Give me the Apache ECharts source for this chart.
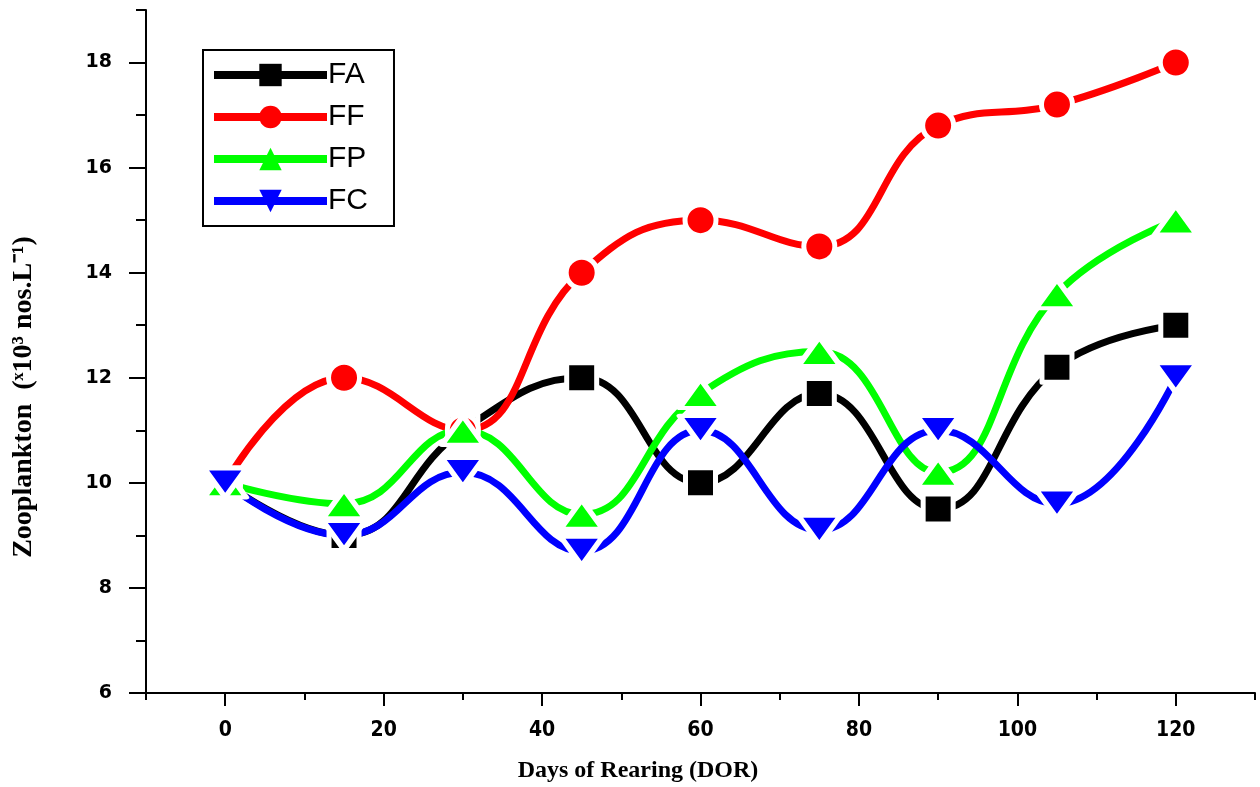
<!DOCTYPE html>
<html>
<head>
<meta charset="utf-8">
<script src="https://cdn.jsdelivr.net/npm/echarts@6/dist/echarts.min.js"></script>
<style>html,body{margin:0;padding:0;background:#fff;}#c{width:1260px;height:787px;}</style>
</head>
<body>
<div id="c"></div>
<script>
const days = [0, 15, 30, 45, 60, 75, 90, 105, 120];
const FA = [10, 9, 11, 12, 10, 11.7, 9.5, 12.2, 13];
const FF = [10, 12, 11, 14, 15, 14.5, 16.8, 17.2, 18];
const FP = [10, 9.6, 11, 9.4, 11.7, 12.5, 10.2, 13.6, 15];
const FC = [10, 9, 10.2, 8.7, 11, 9.1, 11, 9.6, 12];

const xMajorTicks = [0, 20, 40, 60, 80, 100, 120];
const xMinorTicks = [-10, 10, 30, 50, 70, 90, 110, 130];
const yMajorTicks = [6, 8, 10, 12, 14, 16, 18];
const yMinorTicks = [7, 9, 11, 13, 15, 17, 19];

const xTitle = 'Days of Rearing (DOR)';
const yTitle = 'Zooplankton  (\u02E310\u00B3 nos.L\u207B\u00B9)';

const chart = echarts.init(document.getElementById('c'), null, {renderer: 'canvas'});

function pairs(vals) { return days.map((d, i) => [d, vals[i]]); }

function mkSeries(name, vals, color, symbol, size) {
  return {
    name: name, type: 'line', data: pairs(vals),
    smooth: 0.45,
    symbol: symbol, symbolSize: size,
    showAllSymbol: true,
    lineStyle: {color: color, width: 7},
    itemStyle: {color: color, borderColor: '#fff', borderWidth: 5, borderJoin: 'round'},
    emphasis: {disabled: true},
    animation: false
  };
}

const option = {
  backgroundColor: '#fff',
  animation: false,
  grid: {left: 146, right: 5, top: 10, bottom: 94, containLabel: false},
  legend: {
    left: 203, top: 50,
    orient: 'vertical',
    padding: [10, 26, 10, 7],
    borderColor: '#000', borderWidth: 2,
    itemWidth: 113, itemHeight: 28, itemGap: 12,
    itemStyle: {borderWidth: 0},
    lineStyle: {width: 8},
    textStyle: {fontFamily: 'Arial, "Liberation Sans"', fontSize: 30, lineHeight: 30, color: '#000', padding: [0, 0, 0, -4]},
    data: ['FA', 'FF', 'FP', 'FC']
  },
  xAxis: [
    {
      type: 'value', min: -10, max: 130,
      splitLine: {show: false},
      axisLine: {show: true, onZero: false, lineStyle: {color: '#000', width: 2}},
      axisTick: {show: true, length: 13, lineStyle: {color: '#000', width: 2}, customValues: xMajorTicks},
      axisLabel: {show: true, customValues: xMajorTicks, margin: 27, color: '#000',
        fontFamily: '"DejaVu Sans Condensed", "DejaVu Sans", Arial', fontWeight: 'bold', fontSize: 21}
    },
    {
      type: 'value', min: -10, max: 130, position: 'bottom',
      splitLine: {show: false},
      axisLine: {show: false, onZero: false},
      axisTick: {show: true, length: 7, lineStyle: {color: '#000', width: 2}, customValues: xMinorTicks},
      axisLabel: {show: false}
    }
  ],
  yAxis: [
    {
      type: 'value', min: 6, max: 19,
      splitLine: {show: false},
      axisLine: {show: true, onZero: false, lineStyle: {color: '#000', width: 2}},
      axisTick: {show: true, length: 17, lineStyle: {color: '#000', width: 2}, customValues: yMajorTicks},
      axisLabel: {show: true, customValues: yMajorTicks, margin: 34, color: '#000',
        fontFamily: '"DejaVu Sans", Arial', fontWeight: 'bold', fontSize: 19}
    },
    {
      type: 'value', min: 6, max: 19, position: 'left',
      splitLine: {show: false},
      axisLine: {show: false, onZero: false},
      axisTick: {show: true, length: 10, lineStyle: {color: '#000', width: 2}, customValues: yMinorTicks},
      axisLabel: {show: false}
    }
  ],
  graphic: [
    {type: 'text', x: 638, y: 771,
      style: {text: xTitle, fontFamily: '"Times New Roman", "Liberation Serif", serif', fontWeight: 'bold', fontSize: 24, fill: '#000',
        align: 'center', verticalAlign: 'middle'}},
    {type: 'text', x: 24, y: 397, rotation: Math.PI / 2,
      style: {text: yTitle, fontFamily: '"Times New Roman", "Liberation Serif", serif', fontWeight: 'bold', fontSize: 28, fill: '#000',
        align: 'center', verticalAlign: 'middle'}}
  ],
  series: [
    mkSeries('FA', FA, '#000000', 'rect', 30),
    mkSeries('FF', FF, '#ff0000', 'circle', 31),
    mkSeries('FP', FP, '#00ff00', 'triangle', [42, 29]),
    mkSeries('FC', FC, '#0000ff', 'path://M0,0 L10,0 L5,7 Z', [42, 29])
  ]
};
chart.setOption(option);
</script>
</body>
</html>
